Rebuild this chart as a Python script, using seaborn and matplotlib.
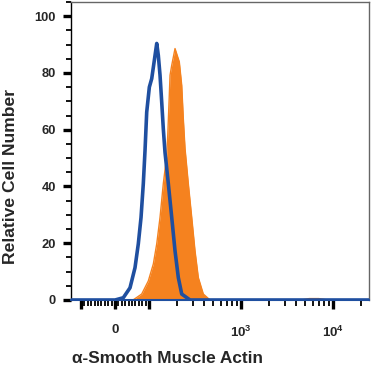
import numpy as np
import pandas as pd
import matplotlib
matplotlib.use("Agg")
import matplotlib.pyplot as plt
import matplotlib.ticker as mticker
import seaborn as sns

# ---- data ----
blue_x = [-130, 0, 24.4, 44.1, 58.8, 68.5, 76.5, 83.2, 88.2, 93.2, 100.8, 107.0, 121.3,
          126.2, 131.7, 137.4, 143.0, 149.2, 162.1, 176.5, 191.7, 208.2, 226.7, 279.1, 25000]
blue_y = [0, 0, 0.8, 4.3, 11.4, 19.8, 29.1, 41.0, 52.6, 66.2, 75.0, 78.0, 90.4,
          86.2, 79.2, 69.7, 60.3, 52.0, 41.0, 29.1, 17.3, 7.9, 2.1, 0, 0]

orange_x = [-130, 52.9, 78.5, 97.9, 111.4, 121.3, 131.7, 143.0, 155.7, 159.7, 165.0, 169.2,
            176.5, 191.7, 213.4, 226.7, 235.9, 246.2, 267.4, 291.2, 316.2, 343.5, 389.2,
            460.3, 4500, 5500, 7000, 8800, 25000]
orange_y = [0, 0, 2.1, 6.7, 12.7, 19.8, 29.1, 41.0, 50.8, 57.9, 69.7, 79.2,
            82.7, 88.6, 83.9, 75.6, 63.9, 53.4, 41.0, 29.1, 17.3, 7.9, 2.1,
            0, 0, 0.5, 0.5, 0, 0]

y_ticks = [0, 20, 40, 60, 80, 100]
x_major = [-100, 0, 100, 1000, 10000]
x_labels = ["", "0", "", r"$\mathbf{10^{3}}$", r"$\mathbf{10^{4}}$"]

blue_df = pd.DataFrame({"x": blue_x, "y": blue_y})
orange_df = pd.DataFrame({"x": orange_x, "y": orange_y})

sns.set_style("ticks")
plt.rcParams["font.family"] = ["Liberation Sans", "DejaVu Sans"]
plt.rcParams["font.weight"] = "bold"
plt.rcParams["mathtext.fontset"] = "custom"
plt.rcParams["mathtext.rm"] = "Liberation Sans:bold"
plt.rcParams["mathtext.bf"] = "Liberation Sans:bold"
plt.rcParams["mathtext.it"] = "Liberation Sans:bold"

ORANGE = "#F5821F"
BLUE = "#1F4FA0"

fig = plt.figure(figsize=(3.71, 3.72), dpi=100)
ax = fig.add_axes([71 / 371, 1 - 300 / 372, 298 / 371, 298 / 372])

ax.set_xscale("symlog", linthresh=100, linscale=0.3326)

ax.fill_between(orange_df["x"], 0, orange_df["y"], color=ORANGE, linewidth=0, zorder=2)
sns.lineplot(data=orange_df, x="x", y="y", ax=ax, color=ORANGE, linewidth=1.0,
             sort=False, zorder=2)
sns.lineplot(data=blue_df, x="x", y="y", ax=ax, color=BLUE, linewidth=2.6,
             sort=False, zorder=3)

ax.set_xlim(-128.5, 24600)
ax.set_ylim(0, 105)

# y ticks
ax.set_yticks(y_ticks)
ax.yaxis.set_minor_locator(mticker.MultipleLocator(5))
ax.tick_params(axis="y", which="major", direction="out", length=5.8, width=2.4,
               pad=5.0, labelsize=9.3, color="black")
ax.tick_params(axis="y", which="minor", direction="out", length=3.6, width=1.3,
               color="black")

# x ticks
ax.set_xticks(x_major)
ax.set_xticklabels(x_labels)
minor = [v for v in range(-90, 100, 10) if v != 0]
for d in (100, 1000, 10000):
    minor += [m * d for m in range(2, 10) if m * d < 24600]
ax.set_xticks(minor, minor=True)
ax.tick_params(axis="x", which="major", direction="out", length=6.5, width=2.4,
               pad=11, labelsize=9.5, color="black")
ax.tick_params(axis="x", which="minor", direction="out", length=4, width=1.3,
               color="black")

for side in ("top", "right"):
    ax.spines[side].set_visible(True)
    ax.spines[side].set_color("#666666")
    ax.spines[side].set_linewidth(1.0)
ax.spines["left"].set_color("black")
ax.spines["left"].set_linewidth(1.0)
ax.spines["bottom"].set_color(BLUE)
ax.spines["bottom"].set_linewidth(1.5)

ax.set_ylabel("Relative Cell Number", fontsize=12.6, fontweight="bold")
ax.set_xlabel("α-Smooth Muscle Actin", fontsize=12.4, fontweight="bold")
ax.yaxis.set_label_coords(-0.178, 0.416)
ax.xaxis.set_label_coords(0.324, -0.172)

fig.savefig("out.png", dpi=100)
